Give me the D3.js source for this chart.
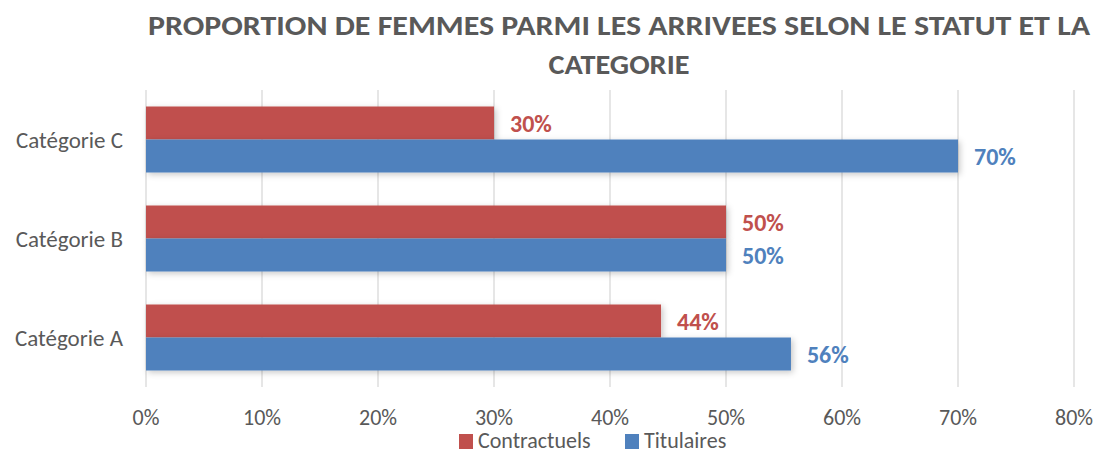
<!DOCTYPE html>
<html lang="fr">
<head>
<meta charset="utf-8">
<title>Proportion de femmes</title>
<script src="https://d3js.org/d3.v7.min.js"></script>
<style>
  body { margin: 0; background: #fff; overflow: hidden; }
  text { font-family: Carlito, Calibri, Lato, "Open Sans", sans-serif; fill: #595959; }
</style>
</head>
<body>
<svg width="1097" height="452"></svg>
<script>
// data
const categories = ["Catégorie A", "Catégorie B", "Catégorie C"];
const seriesNames = ["Contractuels", "Titulaires"];
const contractuels = [0.444, 0.50, 0.30];
const titulaires = [0.556, 0.50, 0.70];
const tickValues = [0, 0.1, 0.2, 0.3, 0.4, 0.5, 0.6, 0.7, 0.8];
const titleLines = ["PROPORTION DE FEMMES PARMI LES ARRIVEES SELON LE STATUT ET LA", "CATEGORIE"];

const colors = { "Contractuels": "#C0504D", "Titulaires": "#4F81BD" };

const rows = categories.map((c, i) => ({
  cat: c,
  vals: [
    { name: "Contractuels", v: contractuels[i] },
    { name: "Titulaires", v: titulaires[i] }
  ]
}));

const svg = d3.select("svg");
const plotL = 146, plotR = 1074, plotT = 90, plotB = 387;

const x = d3.scaleLinear().domain([0, 0.8]).range([plotL, plotR]);
const y = d3.scaleBand()
  .domain(categories.slice().reverse())
  .range([plotT, plotB])
  .paddingInner(1 / 3)
  .paddingOuter(1 / 6);
const ySub = d3.scaleBand().domain(seriesNames).range([0, y.bandwidth()]);

// shadow
const defs = svg.append("defs");
const f = defs.append("filter").attr("id", "sh").attr("x", "-5%").attr("y", "-30%").attr("width", "115%").attr("height", "170%");
f.append("feDropShadow").attr("dx", 2).attr("dy", 2).attr("stdDeviation", 3)
  .attr("flood-color", "#000").attr("flood-opacity", 0.22);

// title
const title = svg.append("g");
title.append("text")
  .attr("x", 619).attr("y", 35)
  .attr("text-anchor", "middle")
  .attr("textLength", 942).attr("lengthAdjust", "spacingAndGlyphs")
  .style("font-size", "28px").style("font-weight", "bold")
  .text(titleLines[0]);
title.append("text")
  .attr("x", 619).attr("y", 74)
  .attr("text-anchor", "middle")
  .attr("textLength", 141).attr("lengthAdjust", "spacingAndGlyphs")
  .style("font-size", "28px").style("font-weight", "bold")
  .text(titleLines[1]);

// gridlines
svg.append("g")
  .selectAll("line")
  .data(tickValues)
  .join("line")
  .attr("x1", d => x(d)).attr("x2", d => x(d))
  .attr("y1", plotT).attr("y2", plotB)
  .attr("stroke", "#d9d9d9").attr("stroke-width", 1.3);

// x axis labels
svg.append("g")
  .selectAll("text")
  .data(tickValues)
  .join("text")
  .attr("x", d => x(d)).attr("y", 425)
  .attr("text-anchor", "middle")
  .style("font-size", "22px")
  .text(d3.format(".0%"));

// category labels
svg.append("g")
  .selectAll("text")
  .data(categories)
  .join("text")
  .attr("x", 123).attr("y", d => y(d) + y.bandwidth() / 2 + 8)
  .attr("text-anchor", "end")
  .style("font-size", "23px")
  .text(d => d);

// bars
const groups = svg.append("g")
  .selectAll("g")
  .data(rows)
  .join("g")
  .attr("transform", d => `translate(0,${y(d.cat)})`);

groups.selectAll("rect")
  .data(d => d.vals)
  .join("rect")
  .attr("x", x(0))
  .attr("y", d => ySub(d.name))
  .attr("width", d => x(d.v) - x(0))
  .attr("height", ySub.bandwidth())
  .attr("fill", d => colors[d.name])
  .attr("filter", "url(#sh)");

groups.selectAll("text")
  .data(d => d.vals)
  .join("text")
  .attr("x", d => x(d.v) + 16)
  .attr("y", d => ySub(d.name) + ySub.bandwidth() / 2 + 8.5)
  .style("font-size", "24px").style("font-weight", "bold")
  .style("fill", d => colors[d.name])
  .text(d => d3.format(".0%")(d.v));

// legend
const legend = svg.append("g");
const legendItems = [
  { name: "Contractuels", x: 459 },
  { name: "Titulaires", x: 625 }
];
legendItems.forEach(it => {
  legend.append("rect")
    .attr("x", it.x).attr("y", 434).attr("width", 14).attr("height", 15)
    .attr("fill", colors[it.name]);
  legend.append("text")
    .attr("x", it.x + 19).attr("y", 448)
    .style("font-size", "22px")
    .text(it.name);
});
</script>
</body>
</html>
